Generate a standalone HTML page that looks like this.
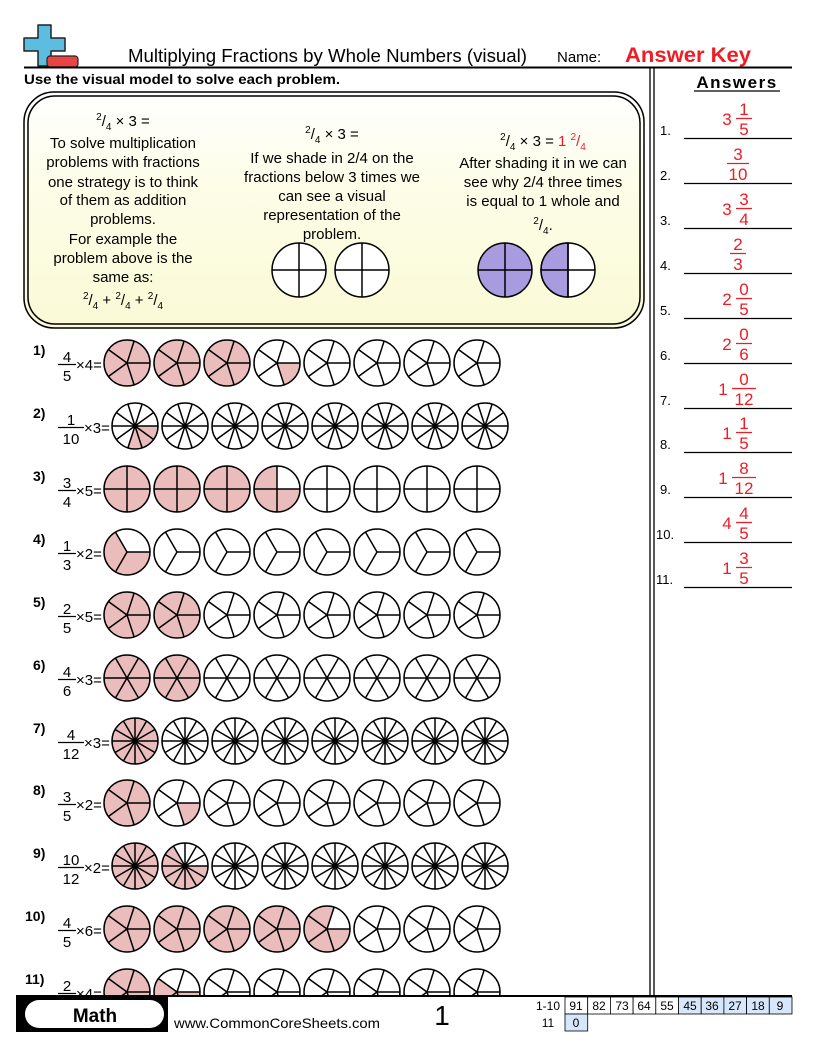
<!DOCTYPE html>
<html><head><meta charset="utf-8"><style>
html,body{margin:0;padding:0;background:#fff}
svg{display:block}
text{font-family:"Liberation Sans",sans-serif}
</style></head><body>
<svg width="816" height="1056" viewBox="0 0 816 1056" xmlns="http://www.w3.org/2000/svg">
<defs>
<linearGradient id="bg" x1="0" y1="0" x2="0" y2="1"><stop offset="0" stop-color="#ffffff"/><stop offset="0.4" stop-color="#fdfde8"/><stop offset="1" stop-color="#fafad6"/></linearGradient>
<g id="d3" fill="none" stroke="#000" stroke-width="1.5"><circle r="23"/><path d="M0 0L23 0M0 0L-11.5 19.92M0 0L-11.5 -19.92"/></g>
<g id="d4" fill="none" stroke="#000" stroke-width="1.5"><circle r="23"/><path d="M-23 0L23 0M0 -23L0 23"/></g>
<g id="d5" fill="none" stroke="#000" stroke-width="1.5"><circle r="23"/><path d="M0 0L23 0M0 0L7.11 21.87M0 0L-18.61 13.52M0 0L-18.61 -13.52M0 0L7.11 -21.87"/></g>
<g id="d6" fill="none" stroke="#000" stroke-width="1.5"><circle r="23"/><path d="M-23 0L23 0M-11.5 -19.92L11.5 19.92M11.5 -19.92L-11.5 19.92"/></g>
<g id="d10" stroke="#000" stroke-width="1.5"><circle r="23" fill="none"/><path d="M-23 0L23 0M-18.61 -13.52L18.61 13.52M-7.11 -21.87L7.11 21.87M7.11 -21.87L-7.11 21.87M18.61 -13.52L-18.61 13.52"/><circle r="2.5" fill="#000" stroke="none"/></g>
<g id="d12" stroke="#000" stroke-width="1.5"><circle r="23" fill="none"/><path d="M-23 0L23 0M-19.92 -11.5L19.92 11.5M-11.5 -19.92L11.5 19.92M0 -23L0 23M11.5 -19.92L-11.5 19.92M19.92 -11.5L-19.92 11.5"/><circle r="2.5" fill="#000" stroke="none"/></g>
<circle id="full" r="23" fill="#ebbcbc"/>
</defs>

<!-- logo -->
<path d="M38 25h13v13h14v13h-14v15h-13v-15h-14v-13h14z" fill="#5bbde0" stroke="#222" stroke-width="1.5" stroke-linejoin="round"/>
<rect x="47" y="56" width="31" height="11" rx="3" fill="#e94444" stroke="#222" stroke-width="1.2"/>

<text x="128" y="62" font-size="18" textLength="399" lengthAdjust="spacingAndGlyphs">Multiplying Fractions by Whole Numbers (visual)</text>
<text x="557" y="62" font-size="15">Name:</text>
<text x="625" y="62" font-size="21" font-weight="bold" fill="#ee1c24" textLength="126" lengthAdjust="spacingAndGlyphs">Answer Key</text>
<line x1="24" y1="67.5" x2="792" y2="67.5" stroke="#000" stroke-width="2"/>
<text x="24" y="84" font-size="14" font-weight="bold" textLength="316" lengthAdjust="spacingAndGlyphs">Use the visual model to solve each problem.</text>
<line x1="650" y1="68" x2="650" y2="996" stroke="#000" stroke-width="1.3"/>
<line x1="654" y1="68" x2="654" y2="996" stroke="#000" stroke-width="1.3"/>

<!-- intro box -->
<rect x="24" y="92" width="620" height="236" rx="30" fill="url(#bg)" stroke="#000" stroke-width="1.5"/>
<rect x="28" y="96" width="612" height="228" rx="27" fill="none" stroke="#000" stroke-width="1.5"/>
<g font-size="15" text-anchor="middle">
<text x="123" y="126"><tspan font-size="10" dy="-6">2</tspan><tspan dy="6">/</tspan><tspan font-size="10" dy="4">4</tspan><tspan dy="-4"> × 3 =</tspan></text>
<text x="123" y="148">To solve multiplication</text>
<text x="123" y="167">problems with fractions</text>
<text x="123" y="187">one strategy is to think</text>
<text x="123" y="205">of them as addition</text>
<text x="123" y="224">problems.</text>
<text x="123" y="244">For example the</text>
<text x="123" y="263">problem above is the</text>
<text x="123" y="282">same as:</text>
<text x="123" y="305"><tspan font-size="10" dy="-6">2</tspan><tspan dy="6">/</tspan><tspan font-size="10" dy="4">4</tspan><tspan dy="-4"> + </tspan><tspan font-size="10" dy="-6">2</tspan><tspan dy="6">/</tspan><tspan font-size="10" dy="4">4</tspan><tspan dy="-4"> + </tspan><tspan font-size="10" dy="-6">2</tspan><tspan dy="6">/</tspan><tspan font-size="10" dy="4">4</tspan></text>
<text x="332" y="139"><tspan font-size="10" dy="-6">2</tspan><tspan dy="6">/</tspan><tspan font-size="10" dy="4">4</tspan><tspan dy="-4"> × 3 =</tspan></text>
<text x="332" y="163">If we shade in 2/4 on the</text>
<text x="332" y="182">fractions below 3 times we</text>
<text x="332" y="201">can see a visual</text>
<text x="332" y="220">representation of the</text>
<text x="332" y="239">problem.</text>
<text x="543" y="146"><tspan font-size="10" dy="-6">2</tspan><tspan dy="6">/</tspan><tspan font-size="10" dy="4">4</tspan><tspan dy="-4"> × 3 = </tspan><tspan fill="#ee1c24">1 </tspan><tspan fill="#ee1c24" font-size="10" dy="-6">2</tspan><tspan fill="#ee1c24" dy="6">/</tspan><tspan fill="#ee1c24" font-size="10" dy="4">4</tspan></text>
<text x="543" y="168">After shading it in we can</text>
<text x="543" y="187">see why 2/4 three times</text>
<text x="543" y="206">is equal to 1 whole and</text>
<text x="543" y="230"><tspan font-size="10" dy="-6">2</tspan><tspan dy="6">/</tspan><tspan font-size="10" dy="4">4</tspan><tspan dy="-4">.</tspan></text>
</g>
<g stroke="#000" stroke-width="1.5">
<circle cx="299" cy="270" r="27" fill="#fff"/><path d="M272 270h54M299 243v54"/>
<circle cx="362" cy="270" r="27" fill="#fff"/><path d="M335 270h54M362 243v54"/>
<circle cx="505" cy="270" r="27" fill="#a99be0"/><path d="M478 270h54M505 243v54"/>
<circle cx="568" cy="270" r="27" fill="#fff"/><path d="M568 243A27 27 0 0 0 568 297Z" fill="#a99be0"/><path d="M541 270h54M568 243v54"/>
</g>

<!-- rows -->
<g font-size="15">
<!-- row labels -->
<g font-weight="bold" font-size="14">
<text x="33" y="355">1)</text><text x="33" y="418">2)</text><text x="33" y="481">3)</text><text x="33" y="544">4)</text><text x="33" y="607">5)</text><text x="33" y="670">6)</text><text x="33" y="733">7)</text><text x="33" y="795">8)</text><text x="33" y="858">9)</text><text x="25" y="921">10)</text><text x="25" y="984">11)</text>
</g>
<g text-anchor="middle">
<text x="67" y="362">4</text><text x="67" y="381">5</text>
<text x="71" y="425">1</text><text x="71" y="444">10</text>
<text x="67" y="488">3</text><text x="67" y="507">4</text>
<text x="67" y="551">1</text><text x="67" y="570">3</text>
<text x="67" y="614">2</text><text x="67" y="633">5</text>
<text x="67" y="677">4</text><text x="67" y="696">6</text>
<text x="71" y="740">4</text><text x="71" y="759">12</text>
<text x="67" y="802">3</text><text x="67" y="821">5</text>
<text x="71" y="865">10</text><text x="71" y="884">12</text>
<text x="67" y="928">4</text><text x="67" y="947">5</text>
<text x="67" y="991">2</text><text x="67" y="1010">5</text>
</g>
<g stroke="#000" stroke-width="1.2">
<path d="M58 364.5h18M58 490.5h18M58 553.5h18M58 616.5h18M58 679.5h18M58 804.5h18M58 930.5h18M58 993.5h18"/>
<path d="M58 427.5h26M58 742.5h26M58 867.5h26"/>
</g>
<text x="76" y="370">×4=</text>
<text x="84" y="433">×3=</text>
<text x="76" y="496">×5=</text>
<text x="76" y="559">×2=</text>
<text x="76" y="622">×5=</text>
<text x="76" y="685">×3=</text>
<text x="84" y="748">×3=</text>
<text x="76" y="810">×2=</text>
<text x="84" y="873">×2=</text>
<text x="76" y="936">×6=</text>
<text x="76" y="999">×4=</text>
</g>

<g fill="none" stroke="#ebbcbc" stroke-width="23">
<!-- partial shading -->
<circle cx="277" cy="363" r="11.5" stroke-dasharray="14.45 100"/>
<circle cx="135" cy="426" r="11.5" stroke-dasharray="21.68 100"/>
<circle cx="277" cy="489" r="11.5" stroke-dasharray="54.2 100"/>
<circle cx="127" cy="552" r="11.5" stroke-dasharray="48.17 100"/>
<circle cx="177" cy="803" r="11.5" stroke-dasharray="14.45 100"/>
<circle cx="185" cy="866" r="11.5" stroke-dasharray="48.17 100"/>
<circle cx="327" cy="929" r="11.5" stroke-dasharray="57.8 100"/>
<circle cx="177" cy="992" r="11.5" stroke-dasharray="43.36 100"/>
</g>
<!-- full shading -->
<use href="#full" x="127" y="363"/><use href="#full" x="177" y="363"/><use href="#full" x="227" y="363"/>
<use href="#full" x="127" y="489"/><use href="#full" x="177" y="489"/><use href="#full" x="227" y="489"/>
<use href="#full" x="127" y="615"/><use href="#full" x="177" y="615"/>
<use href="#full" x="127" y="678"/><use href="#full" x="177" y="678"/>
<use href="#full" x="135" y="741"/>
<use href="#full" x="127" y="803"/>
<use href="#full" x="135" y="866"/>
<use href="#full" x="127" y="929"/><use href="#full" x="177" y="929"/><use href="#full" x="227" y="929"/><use href="#full" x="277" y="929"/>
<use href="#full" x="127" y="992"/>

<!-- outlines -->
<g>
<use href="#d5" x="127" y="363"/><use href="#d5" x="177" y="363"/><use href="#d5" x="227" y="363"/><use href="#d5" x="277" y="363"/><use href="#d5" x="327" y="363"/><use href="#d5" x="377" y="363"/><use href="#d5" x="427" y="363"/><use href="#d5" x="477" y="363"/>
<use href="#d10" x="135" y="426"/><use href="#d10" x="185" y="426"/><use href="#d10" x="235" y="426"/><use href="#d10" x="285" y="426"/><use href="#d10" x="335" y="426"/><use href="#d10" x="385" y="426"/><use href="#d10" x="435" y="426"/><use href="#d10" x="485" y="426"/>
<use href="#d4" x="127" y="489"/><use href="#d4" x="177" y="489"/><use href="#d4" x="227" y="489"/><use href="#d4" x="277" y="489"/><use href="#d4" x="327" y="489"/><use href="#d4" x="377" y="489"/><use href="#d4" x="427" y="489"/><use href="#d4" x="477" y="489"/>
<use href="#d3" x="127" y="552"/><use href="#d3" x="177" y="552"/><use href="#d3" x="227" y="552"/><use href="#d3" x="277" y="552"/><use href="#d3" x="327" y="552"/><use href="#d3" x="377" y="552"/><use href="#d3" x="427" y="552"/><use href="#d3" x="477" y="552"/>
<use href="#d5" x="127" y="615"/><use href="#d5" x="177" y="615"/><use href="#d5" x="227" y="615"/><use href="#d5" x="277" y="615"/><use href="#d5" x="327" y="615"/><use href="#d5" x="377" y="615"/><use href="#d5" x="427" y="615"/><use href="#d5" x="477" y="615"/>
<use href="#d6" x="127" y="678"/><use href="#d6" x="177" y="678"/><use href="#d6" x="227" y="678"/><use href="#d6" x="277" y="678"/><use href="#d6" x="327" y="678"/><use href="#d6" x="377" y="678"/><use href="#d6" x="427" y="678"/><use href="#d6" x="477" y="678"/>
<use href="#d12" x="135" y="741"/><use href="#d12" x="185" y="741"/><use href="#d12" x="235" y="741"/><use href="#d12" x="285" y="741"/><use href="#d12" x="335" y="741"/><use href="#d12" x="385" y="741"/><use href="#d12" x="435" y="741"/><use href="#d12" x="485" y="741"/>
<use href="#d5" x="127" y="803"/><use href="#d5" x="177" y="803"/><use href="#d5" x="227" y="803"/><use href="#d5" x="277" y="803"/><use href="#d5" x="327" y="803"/><use href="#d5" x="377" y="803"/><use href="#d5" x="427" y="803"/><use href="#d5" x="477" y="803"/>
<use href="#d12" x="135" y="866"/><use href="#d12" x="185" y="866"/><use href="#d12" x="235" y="866"/><use href="#d12" x="285" y="866"/><use href="#d12" x="335" y="866"/><use href="#d12" x="385" y="866"/><use href="#d12" x="435" y="866"/><use href="#d12" x="485" y="866"/>
<use href="#d5" x="127" y="929"/><use href="#d5" x="177" y="929"/><use href="#d5" x="227" y="929"/><use href="#d5" x="277" y="929"/><use href="#d5" x="327" y="929"/><use href="#d5" x="377" y="929"/><use href="#d5" x="427" y="929"/><use href="#d5" x="477" y="929"/>
<use href="#d5" x="127" y="992"/><use href="#d5" x="177" y="992"/><use href="#d5" x="227" y="992"/><use href="#d5" x="277" y="992"/><use href="#d5" x="327" y="992"/><use href="#d5" x="377" y="992"/><use href="#d5" x="427" y="992"/><use href="#d5" x="477" y="992"/>
</g>

<!-- answers -->
<text x="737" y="88" font-size="17" font-weight="bold" text-anchor="middle" letter-spacing="1.5">Answers</text>
<line x1="694" y1="91" x2="780" y2="91" stroke="#000" stroke-width="1.2"/>
<g font-size="13">
<text x="660" y="135">1.</text><text x="660" y="180">2.</text><text x="660" y="225">3.</text><text x="660" y="270">4.</text><text x="660" y="315">5.</text><text x="660" y="360">6.</text><text x="660" y="405">7.</text><text x="660" y="449">8.</text><text x="660" y="494">9.</text><text x="656" y="539">10.</text><text x="656" y="584">11.</text>
</g>
<g stroke="#000" stroke-width="1.3">
<path d="M684 138.5h108M684 183.5h108M684 228.5h108M684 273.5h108M684 318.5h108M684 363.5h108M684 408.5h108M684 452.5h108M684 497.5h108M684 542.5h108M684 587.5h108"/>
</g>
<g fill="#ee1c24" font-size="17" text-anchor="middle">
<!-- whole numbers -->
<text x="727" y="125">3</text><text x="727" y="215">3</text><text x="727" y="305">2</text><text x="727" y="350">2</text><text x="723" y="395">1</text><text x="727" y="439">1</text><text x="723" y="484">1</text><text x="727" y="529">4</text><text x="727" y="574">1</text>
<!-- fractions -->
<text x="744" y="115">1</text><text x="744" y="135">5</text>
<text x="738" y="160">3</text><text x="738" y="180">10</text>
<text x="744" y="205">3</text><text x="744" y="225">4</text>
<text x="738" y="250">2</text><text x="738" y="270">3</text>
<text x="744" y="295">0</text><text x="744" y="315">5</text>
<text x="744" y="340">0</text><text x="744" y="360">6</text>
<text x="744" y="385">0</text><text x="744" y="405">12</text>
<text x="744" y="429">1</text><text x="744" y="449">5</text>
<text x="744" y="474">8</text><text x="744" y="494">12</text>
<text x="744" y="519">4</text><text x="744" y="539">5</text>
<text x="744" y="564">3</text><text x="744" y="584">5</text>
</g>
<g stroke="#ee1c24" stroke-width="1.3">
<path d="M736 118.5h16M727 163.5h22M736 208.5h16M730 253.5h16M736 298.5h16M736 343.5h16M732 388.5h24M736 432.5h16M732 477.5h24M736 522.5h16M736 567.5h16"/>
</g>

<!-- footer -->
<rect x="0" y="996" width="816" height="60" fill="#fff"/>
<line x1="16" y1="996" x2="792" y2="996" stroke="#000" stroke-width="2"/>
<rect x="16" y="996" width="152" height="36" fill="#000"/>
<rect x="25" y="1000" width="139" height="28" rx="14" fill="#fff"/>
<text x="95" y="1022" font-size="19" font-weight="bold" text-anchor="middle">Math</text>
<text x="174" y="1028" font-size="14" textLength="206" lengthAdjust="spacingAndGlyphs">www.CommonCoreSheets.com</text>
<text x="442" y="1025" font-size="28" text-anchor="middle">1</text>
<g font-size="12" text-anchor="middle">
<text x="548" y="1010">1-10</text><text x="548" y="1027">11</text>
<g stroke="#000" stroke-width="0.8">
<rect x="565" y="997" width="22.7" height="17" fill="#fff"/>
<rect x="587.7" y="997" width="22.7" height="17" fill="#fff"/>
<rect x="610.4" y="997" width="22.7" height="17" fill="#fff"/>
<rect x="633.1" y="997" width="22.7" height="17" fill="#fff"/>
<rect x="655.8" y="997" width="22.7" height="17" fill="#fff"/>
<rect x="678.5" y="997" width="22.7" height="17" fill="#d6e6fb"/>
<rect x="701.2" y="997" width="22.7" height="17" fill="#d6e6fb"/>
<rect x="723.9" y="997" width="22.7" height="17" fill="#d6e6fb"/>
<rect x="746.6" y="997" width="22.7" height="17" fill="#d6e6fb"/>
<rect x="769.3" y="997" width="22.7" height="17" fill="#d6e6fb"/>
<rect x="565" y="1014" width="22.7" height="17" fill="#d6e6fb"/>
</g>
<text x="576" y="1010">91</text><text x="599" y="1010">82</text><text x="622" y="1010">73</text><text x="644" y="1010">64</text><text x="667" y="1010">55</text><text x="690" y="1010">45</text><text x="712" y="1010">36</text><text x="735" y="1010">27</text><text x="758" y="1010">18</text><text x="780" y="1010">9</text>
<text x="576" y="1027">0</text>
</g>
</svg>
</body></html>
